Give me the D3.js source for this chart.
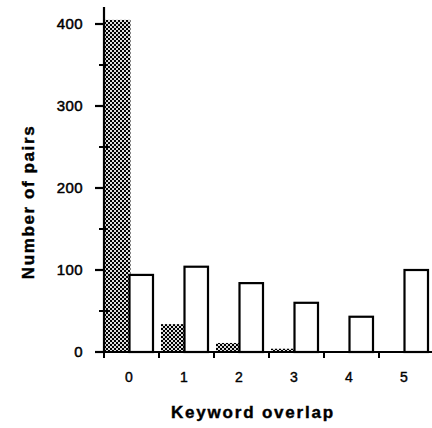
<!DOCTYPE html>
<html>
<head>
<meta charset="utf-8">
<script src="https://cdn.jsdelivr.net/npm/d3@7"></script>
<style>
	body { margin: 0; background: #fff; }
	text { font-family: "Liberation Sans", Arial, sans-serif; fill: #000; }
</style>
</head>
<body>
<div id="chart"></div>
<script>
// keyword overlap categories
var overlap = [0, 1, 2, 3, 4, 5];
// shaded series and white series
var shadedPairs = [405, 34, 11, 4, 1, 0];
var whitePairs = [94, 104, 84, 60, 43, 100];
var yTicks = [0, 100, 200, 300, 400];
var yMinorTicks = [50, 150, 250, 350];

var width = 432, height = 428;

var svg = d3.select("#chart").append("svg")
	.attr("width", width)
	.attr("height", height);

// stipple pattern for the shaded bars
var pat = svg.append("defs").append("pattern")
	.attr("id", "stipple")
	.attr("patternUnits", "userSpaceOnUse")
	.attr("width", 4)
	.attr("height", 4);
pat.append("rect").attr("width", 4).attr("height", 4).attr("fill", "#000");
pat.append("rect").attr("x", 0).attr("y", 0).attr("width", 2).attr("height", 2).attr("fill", "#ddd");
pat.append("rect").attr("x", 2).attr("y", 2).attr("width", 2).attr("height", 2).attr("fill", "#ddd");

var x = d3.scaleBand().domain(overlap).range([104, 434]);
var inner = d3.scaleBand().domain(["shaded", "white"]).range([2, 49]);
var y = d3.scaleLinear().domain([0, 400]).range([352, 24]);

var groups = svg.selectAll(".group")
	.data(overlap).enter()
	.append("g")
	.attr("transform", function(d) { return "translate(" + x(d) + ",0)"; });

groups.append("rect")
	.attr("x", function(d) { return d === 0 ? -1 : inner("shaded"); })
	.attr("width", function(d) { return d === 0 ? inner.bandwidth() + 4 : inner.bandwidth() + 1; })
	.attr("y", function(d, i) { return y(shadedPairs[i]); })
	.attr("height", function(d, i) { return y(0) - y(shadedPairs[i]); })
	.attr("fill", "url(#stipple)");

groups.append("rect")
	.attr("x", inner("white"))
	.attr("width", inner.bandwidth())
	.attr("y", function(d, i) { return y(whitePairs[i]); })
	.attr("height", function(d, i) { return y(0) - y(whitePairs[i]); })
	.attr("fill", "#fff")
	.attr("stroke", "#000")
	.attr("stroke-width", 2.2);

// axes lines
svg.append("line")
	.attr("x1", 104).attr("x2", 104)
	.attr("y1", 7).attr("y2", y(0))
	.attr("stroke", "#000").attr("stroke-width", 2.2);
svg.append("line")
	.attr("x1", 103).attr("x2", 432)
	.attr("y1", y(0)).attr("y2", y(0))
	.attr("stroke", "#000").attr("stroke-width", 2.2);

// y ticks
svg.selectAll(".ytick")
	.data(yTicks).enter()
	.append("line")
	.attr("x1", 95).attr("x2", 105)
	.attr("y1", function(d) { return y(d); })
	.attr("y2", function(d) { return y(d); })
	.attr("stroke", "#000").attr("stroke-width", 2.2);

svg.selectAll(".yminor")
	.data(yMinorTicks).enter()
	.append("line")
	.attr("x1", 99).attr("x2", 108)
	.attr("y1", function(d) { return y(d); })
	.attr("y2", function(d) { return y(d); })
	.attr("stroke", "#000").attr("stroke-width", 2);

svg.selectAll(".ylabel")
	.data(yTicks).enter()
	.append("text")
	.attr("x", 83)
	.attr("y", function(d) { return y(d) + 5; })
	.attr("text-anchor", "end")
	.attr("font-size", 15)
	.attr("letter-spacing", 0.4)
	.attr("stroke", "#000").attr("stroke-width", 0.5)
	.text(function(d) { return d; });

// x ticks at group boundaries
svg.selectAll(".xtick")
	.data(overlap).enter()
	.append("line")
	.attr("x1", function(d) { return x(d); })
	.attr("x2", function(d) { return x(d); })
	.attr("y1", y(0))
	.attr("y2", y(0) + 6)
	.attr("stroke", "#000").attr("stroke-width", 2);

svg.selectAll(".xlabel")
	.data(overlap).enter()
	.append("text")
	.attr("x", function(d) { return x(d) + 25; })
	.attr("y", 382)
	.attr("text-anchor", "middle")
	.attr("font-size", 14)
	.attr("stroke", "#000").attr("stroke-width", 0.4)
	.text(function(d) { return d; });

// titles
svg.append("text")
	.attr("x", 253)
	.attr("y", 418)
	.attr("text-anchor", "middle")
	.attr("font-size", 17)
	.attr("font-weight", "bold")
	.attr("letter-spacing", 1.8)
	.attr("stroke", "#000").attr("stroke-width", 0.4)
	.text("Keyword overlap");

svg.append("text")
	.attr("transform", "translate(34,202) rotate(-90)")
	.attr("text-anchor", "middle")
	.attr("font-size", 17)
	.attr("font-weight", "bold")
	.attr("letter-spacing", 1.6)
	.attr("stroke", "#000").attr("stroke-width", 0.4)
	.text("Number of pairs");
</script>
</body>
</html>
